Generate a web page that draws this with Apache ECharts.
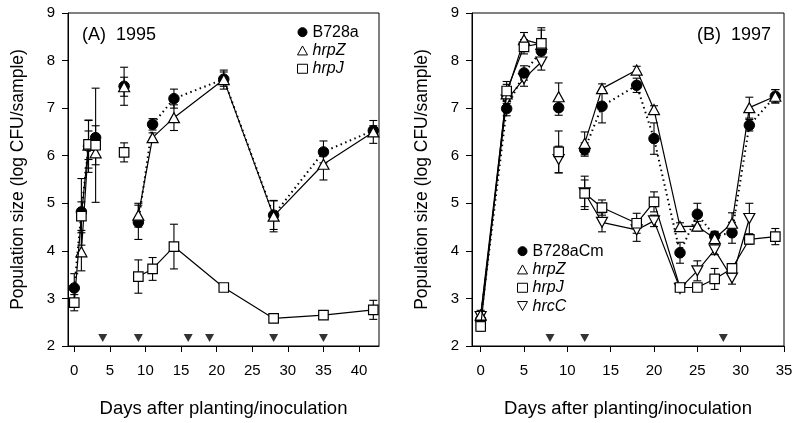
<!DOCTYPE html>
<html>
<head>
<meta charset="utf-8">
<script src="https://cdn.jsdelivr.net/npm/echarts@6/dist/echarts.min.js"></script>
<style>html,body{margin:0;padding:0;background:#fff}#c{width:800px;height:423px}</style>
</head>
<body>
<div id="c"></div>
<script>
// ---------- Panel A (1995) ----------
const daysA = [0, 1, 2, 3, 7, 9, 11, 14, 21, 28, 35, 42];
const isolatedA = [7];
const B728a_A = [3.22, 4.82, 6.20, 6.38, 7.46, 4.60, 6.66, 7.20, 7.61, 4.75, 6.08, 6.53];
const B728a_A_err = [0.30, 0.70, 0.55, 0.25, 0.40, 0.36, 0.12, 0.20, 0.15, 0.30, 0.23, 0.10];
const hrpZ_A = [null, 3.98, 6.22, 6.06, 7.45, 4.75, 6.38, 6.80, 7.60, 4.73, 5.82, 6.50];
const hrpZ_A_err = [null, 0.40, 0.30, 0.25, 0.20, 0.25, 0.10, 0.27, 0.20, 0.33, 0.33, 0.24];
const hrpJ_A = [2.91, 4.73, 6.24, 6.22, 6.07, 3.46, 3.62, 4.09, 3.23, 2.58, 2.65, 2.76];
const hrpJ_A_err = [0.17, 0.30, 0.50, 1.20, 0.20, 0.35, 0.24, 0.47, 0.05, 0.05, 0.05, 0.20];
const arrowsA = [4, 9, 16, 19, 28, 35];
const xTicksA = [0, 5, 10, 15, 20, 25, 30, 35, 40];

// ---------- Panel B (1997) ----------
const daysB = [0, 3, 5, 7, 9, 12, 14, 18, 20, 23, 25, 27, 29, 31, 34];
const isolatedB = [9];
const B728aCm_B = [2.55, 6.99, 7.74, 8.20, 7.01, 6.13, 7.04, 7.48, 6.36, 3.96, 4.77, 4.31, 4.38, 6.64, 7.25];
const B728aCm_B_err = [0.10, 0.15, 0.15, 0.15, 0.16, 0.14, 0.35, 0.15, 0.33, 0.22, 0.23, 0.10, 0.22, 0.12, 0.14];
const hrpZ_B = [2.65, 7.30, 8.44, 8.34, 7.24, 6.26, 7.41, 7.80, 6.97, 4.51, 4.52, 4.26, 4.58, 7.01, 7.25];
const hrpZ_B_err = [0.10, 0.20, 0.15, 0.30, 0.29, 0.24, 0.10, 0.08, 0.08, 0.08, 0.10, 0.10, 0.22, 0.22, 0.14];
const hrpJ_B = [2.41, 7.36, 8.29, 8.36, 6.08, 5.21, 4.91, 4.58, 5.03, 3.23, 3.23, 3.41, 3.63, 4.24, 4.30];
const hrpJ_B_err = [0.10, 0.20, 0.15, 0.33, 0.44, 0.28, 0.16, 0.21, 0.21, 0.05, 0.08, 0.22, 0.10, 0.10, 0.17];
const hrcC_B = [2.62, 7.17, 7.62, 7.97, 5.92, 5.22, 4.60, 4.44, 4.63, 3.21, 3.58, 4.02, 3.43, 4.68, null];
const hrcC_B_err = [0.10, 0.20, 0.16, 0.17, 0.28, 0.35, 0.20, 0.24, 0.12, 0.05, 0.21, 0.10, 0.13, 0.32, null];
const arrowsB = [8, 12, 28];
const xTicksB = [0, 5, 10, 15, 20, 25, 30, 35];

const arrowLevel = 2.17;

const FONT = "'Liberation Sans', Arial, Helvetica, sans-serif";
const BLACK = '#000';

function lineData(days, vals, isolated) {
  const out = [];
  days.forEach((d, i) => {
    if (vals[i] == null) return;
    if (isolated.includes(d)) {
      out.push([d - 0.01, '-']);
      out.push([d, vals[i]]);
      out.push([d + 0.01, '-']);
    } else {
      out.push([d, vals[i]]);
    }
  });
  return out;
}
function errData(days, vals, errs) {
  const out = [];
  days.forEach((d, i) => {
    if (vals[i] == null || errs[i] == null) return;
    out.push([d, vals[i] - errs[i], vals[i] + errs[i]]);
  });
  return out;
}
function errSeries(idx, days, vals, errs) {
  return {
    type: 'custom', xAxisIndex: idx, yAxisIndex: idx, z: 1, silent: true,
    encode: { x: 0, y: [1, 2] },
    data: errData(days, vals, errs),
    renderItem: function (params, api) {
      const x = api.value(0);
      const lo = api.coord([x, api.value(1)]);
      const hi = api.coord([x, api.value(2)]);
      const w = 4;
      const st = { stroke: BLACK, lineWidth: 1.1 };
      return {
        type: 'group',
        children: [
          { type: 'line', shape: { x1: lo[0], y1: lo[1], x2: hi[0], y2: hi[1] }, style: st },
          { type: 'line', shape: { x1: lo[0] - w, y1: lo[1], x2: lo[0] + w, y2: lo[1] }, style: st },
          { type: 'line', shape: { x1: hi[0] - w, y1: hi[1], x2: hi[0] + w, y2: hi[1] }, style: st }
        ]
      };
    }
  };
}
const styles = {
  circle: { symbol: 'circle', symbolSize: 10.5, symbolRotate: 0, itemStyle: { color: BLACK, borderColor: BLACK, borderWidth: 1 }, lineStyle: { color: BLACK, width: 2, type: [1.5, 3.5] } },
  up: { symbol: 'triangle', symbolSize: [11, 10], symbolRotate: 0, itemStyle: { color: '#fff', borderColor: BLACK, borderWidth: 1.2 }, lineStyle: { color: BLACK, width: 1.2, type: 'solid' } },
  rect: { symbol: 'rect', symbolSize: 9.5, symbolRotate: 0, itemStyle: { color: '#fff', borderColor: BLACK, borderWidth: 1.2 }, lineStyle: { color: BLACK, width: 1.2, type: 'solid' } },
  down: { symbol: 'triangle', symbolSize: [11, 10], symbolRotate: 180, itemStyle: { color: '#fff', borderColor: BLACK, borderWidth: 1.2 }, lineStyle: { color: BLACK, width: 1.2, type: 'solid' } }
};
function lineSeries(name, idx, days, vals, isolated, sty, z) {
  const s = styles[sty];
  return {
    name: name, type: 'line', xAxisIndex: idx, yAxisIndex: idx, z: z,
    data: lineData(days, vals, isolated), connectNulls: false,
    symbol: s.symbol, symbolSize: s.symbolSize, symbolRotate: s.symbolRotate,
    showSymbol: true, showAllSymbol: true,
    itemStyle: s.itemStyle, lineStyle: s.lineStyle,
    emphasis: { disabled: true }, animation: false
  };
}
function arrowSeries(idx, arr) {
  return {
    type: 'scatter', xAxisIndex: idx, yAxisIndex: idx, z: 3, silent: true,
    symbol: 'triangle', symbolRotate: 180, symbolSize: [9, 8],
    itemStyle: { color: BLACK },
    data: arr.map(d => [d, arrowLevel])
  };
}
function xAxis(idx, min, max, ticks) {
  return {
    gridIndex: idx, type: 'value', min: min, max: max,
    name: 'Days after planting/inoculation', nameLocation: 'middle', nameGap: 53,
    nameTextStyle: { fontFamily: FONT, fontSize: 18.5, color: BLACK },
    axisLine: { show: true, onZero: false, lineStyle: { color: BLACK, width: 1 } },
    axisTick: { show: true, length: 6, customValues: ticks, lineStyle: { color: BLACK } },
    axisLabel: { customValues: ticks, margin: 17, fontFamily: FONT, fontSize: 15, color: BLACK },
    splitLine: { show: false }
  };
}
function yAxis(idx) {
  return {
    gridIndex: idx, type: 'value', min: 2, max: 9, interval: 1,
    name: 'Population size (log CFU/sample)', nameLocation: 'middle', nameGap: 41,
    nameTextStyle: { fontFamily: FONT, fontSize: 17.5, color: BLACK },
    axisLine: { show: true, onZero: false, lineStyle: { color: BLACK, width: 1 } },
    axisTick: { show: true, length: 6, lineStyle: { color: BLACK } },
    axisLabel: { margin: 13, fontFamily: FONT, fontSize: 15, color: BLACK },
    splitLine: { show: false }
  };
}
const legendText = { fontFamily: FONT, fontSize: 16, color: BLACK, lineHeight: 18.3 };
const italic = { fontFamily: FONT, fontSize: 16, color: BLACK, fontStyle: 'italic', lineHeight: 18.3 };
const downIcon = 'path://M0,0L10,0L5,9Z';
const legendCommon = {
  orient: 'vertical', padding: 0, itemGap: 0, itemWidth: 10, itemHeight: 9,
  selectedMode: false, textStyle: legendText,
  itemStyle: { borderWidth: 1 }, lineStyle: { width: 0 }
};

const option = {
  animation: false,
  backgroundColor: '#fff',
  textStyle: { fontFamily: FONT },
  title: [
    { text: '(A)  1995', left: 77, top: 21, textStyle: { fontFamily: FONT, fontSize: 18, fontWeight: 'normal', color: BLACK } },
    { text: '(B)  1997', left: 692, top: 21, textStyle: { fontFamily: FONT, fontSize: 18, fontWeight: 'normal', color: BLACK } }
  ],
  grid: [
    { left: 68, top: 13, width: 311, height: 333, show: true, borderColor: BLACK, borderWidth: 1, backgroundColor: 'transparent' },
    { left: 472, top: 13, width: 312, height: 333, show: true, borderColor: BLACK, borderWidth: 1, backgroundColor: 'transparent' }
  ],
  xAxis: [xAxis(0, -0.88, 42.8, xTicksA), xAxis(1, -1, 35, xTicksB)],
  yAxis: [yAxis(0), yAxis(1)],
  legend: [
    Object.assign({}, legendCommon, {
      left: 297, top: 23,
      data: [
        { name: 'B728a', icon: 'circle' },
        { name: 'hrpZ', icon: 'triangle', textStyle: italic },
        { name: 'hrpJ', icon: 'rect', textStyle: italic }
      ]
    }),
    Object.assign({}, legendCommon, {
      left: 517, top: 242,
      data: [
        { name: 'B728aCm', icon: 'circle' },
        { name: 'hrpZ', icon: 'triangle', textStyle: italic },
        { name: 'hrpJ', icon: 'rect', textStyle: italic },
        { name: 'hrcC', icon: downIcon, textStyle: italic }
      ]
    })
  ],
  series: [
    errSeries(0, daysA, B728a_A, B728a_A_err),
    errSeries(0, daysA, hrpZ_A, hrpZ_A_err),
    errSeries(0, daysA, hrpJ_A, hrpJ_A_err),
    lineSeries('B728a', 0, daysA, B728a_A, isolatedA, 'circle', 3),
    lineSeries('hrpZ', 0, daysA, hrpZ_A, isolatedA, 'up', 4),
    lineSeries('hrpJ', 0, daysA, hrpJ_A, isolatedA, 'rect', 5),
    arrowSeries(0, arrowsA),

    errSeries(1, daysB, B728aCm_B, B728aCm_B_err),
    errSeries(1, daysB, hrpZ_B, hrpZ_B_err),
    errSeries(1, daysB, hrpJ_B, hrpJ_B_err),
    errSeries(1, daysB, hrcC_B, hrcC_B_err),
    lineSeries('hrcC', 1, daysB, hrcC_B, isolatedB, 'down', 2),
    lineSeries('B728aCm', 1, daysB, B728aCm_B, isolatedB, 'circle', 3),
    lineSeries('hrpZ', 1, daysB, hrpZ_B, isolatedB, 'up', 4),
    lineSeries('hrpJ', 1, daysB, hrpJ_B, isolatedB, 'rect', 5),
    arrowSeries(1, arrowsB)
  ]
};
const chart = echarts.init(document.getElementById('c'), null, { renderer: 'canvas' });
chart.setOption(option);
</script>
</body>
</html>
